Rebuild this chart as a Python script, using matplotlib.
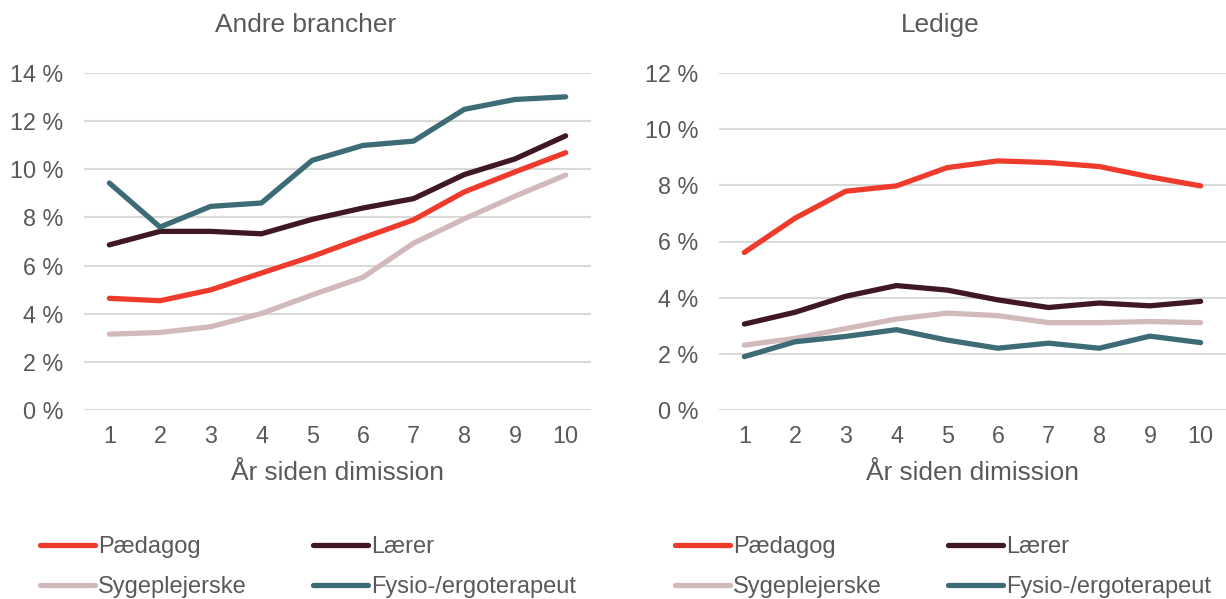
import matplotlib
matplotlib.use("Agg")
import matplotlib.pyplot as plt
from matplotlib.ticker import FuncFormatter

plt.rcParams['font.family'] = ['Liberation Sans', 'DejaVu Sans']

years = [1, 2, 3, 4, 5, 6, 7, 8, 9, 10]
series_names = ["Pædagog", "Lærer", "Sygeplejerske", "Fysio-/ergoterapeut"]
colors = ["#EE3B2C", "#3F1823", "#D2B9BC", "#3D6C76"]

# Andre brancher (%)
andre_paedagog = [4.64, 4.54, 4.99, 5.69, 6.38, 7.15, 7.90, 9.06, 9.89, 10.69]
andre_laerer = [6.86, 7.42, 7.42, 7.32, 7.92, 8.39, 8.78, 9.78, 10.43, 11.39]
andre_syge = [3.15, 3.22, 3.46, 4.01, 4.78, 5.51, 6.93, 7.94, 8.88, 9.76]
andre_fysio = [9.43, 7.60, 8.46, 8.60, 10.37, 10.99, 11.17, 12.49, 12.90, 13.01]

# Ledige (%)
ledige_paedagog = [5.61, 6.83, 7.79, 7.98, 8.63, 8.87, 8.81, 8.67, 8.30, 7.98]
ledige_laerer = [3.06, 3.48, 4.05, 4.43, 4.27, 3.92, 3.65, 3.81, 3.71, 3.87]
ledige_syge = [2.31, 2.55, 2.90, 3.24, 3.45, 3.36, 3.11, 3.11, 3.15, 3.11]
ledige_fysio = [1.90, 2.43, 2.62, 2.86, 2.49, 2.20, 2.38, 2.20, 2.63, 2.40]

titles = ["Andre brancher", "Ledige"]
xlabel = "År siden dimission"
ymaxes = [14, 12]

W, H = 1226, 599
fig = plt.figure(figsize=(W / 100, H / 100), dpi=100)
TXT = "#595959"
FS_TICK = 16.8
FS_BIG = 18.9
FS_LEG = 17

panels = [
    (84, [andre_paedagog, andre_laerer, andre_syge, andre_fysio]),
    (719, [ledige_paedagog, ledige_laerer, ledige_syge, ledige_fysio]),
]
legend_x = [40, 675]
title_x = [306, 940]

for i, (x0, data) in enumerate(panels):
    ax = fig.add_axes([x0 / W, 1 - 410 / H, 507 / W, 337 / H])
    lines = []
    for vals, c, name in zip(data, colors, series_names):
        ln, = ax.plot(years, vals, color=c, lw=3.8, solid_capstyle='round',
                      solid_joinstyle='round', label=name, zorder=3)
        lines.append(ln)
    ax.set_xlim(0.5, 10.5)
    ax.set_ylim(0, ymaxes[i])
    ax.set_yticks(range(0, ymaxes[i] + 1, 2))
    ax.yaxis.set_major_formatter(FuncFormatter(lambda v, p: f"{int(v)} %"))
    ax.set_xticks(years)
    ax.grid(axis='y', color='#D9D9D9', lw=1.5, zorder=0)
    ax.grid(axis='x', visible=False)
    for s in ax.spines.values():
        s.set_visible(False)
    ax.tick_params(length=0, labelsize=FS_TICK, labelcolor=TXT)
    ax.tick_params(axis='y', pad=15)
    ax.tick_params(axis='x', pad=11)
    ax.set_axisbelow(True)
    cx = (x0 + 507 / 2) / W
    fig.text(title_x[i] / W, 1 - 25 / H, titles[i], ha='center', va='center',
             fontsize=FS_BIG, color=TXT)
    fig.text(cx, 1 - 473 / H, xlabel, ha='center', va='center', fontsize=FS_BIG, color=TXT)
    order = [0, 2, 1, 3]
    ax.legend([lines[k] for k in order], [series_names[k] for k in order],
              ncol=2, loc='upper left', bbox_to_anchor=(legend_x[i] / W, 1 - 536 / H),
              bbox_transform=fig.transFigure, frameon=False, fontsize=FS_LEG,
              labelcolor=TXT, handlelength=2.33, handletextpad=0.13,
              columnspacing=2.8, labelspacing=0.78, borderpad=0, borderaxespad=0)

fig.savefig("out.png", dpi=100)
